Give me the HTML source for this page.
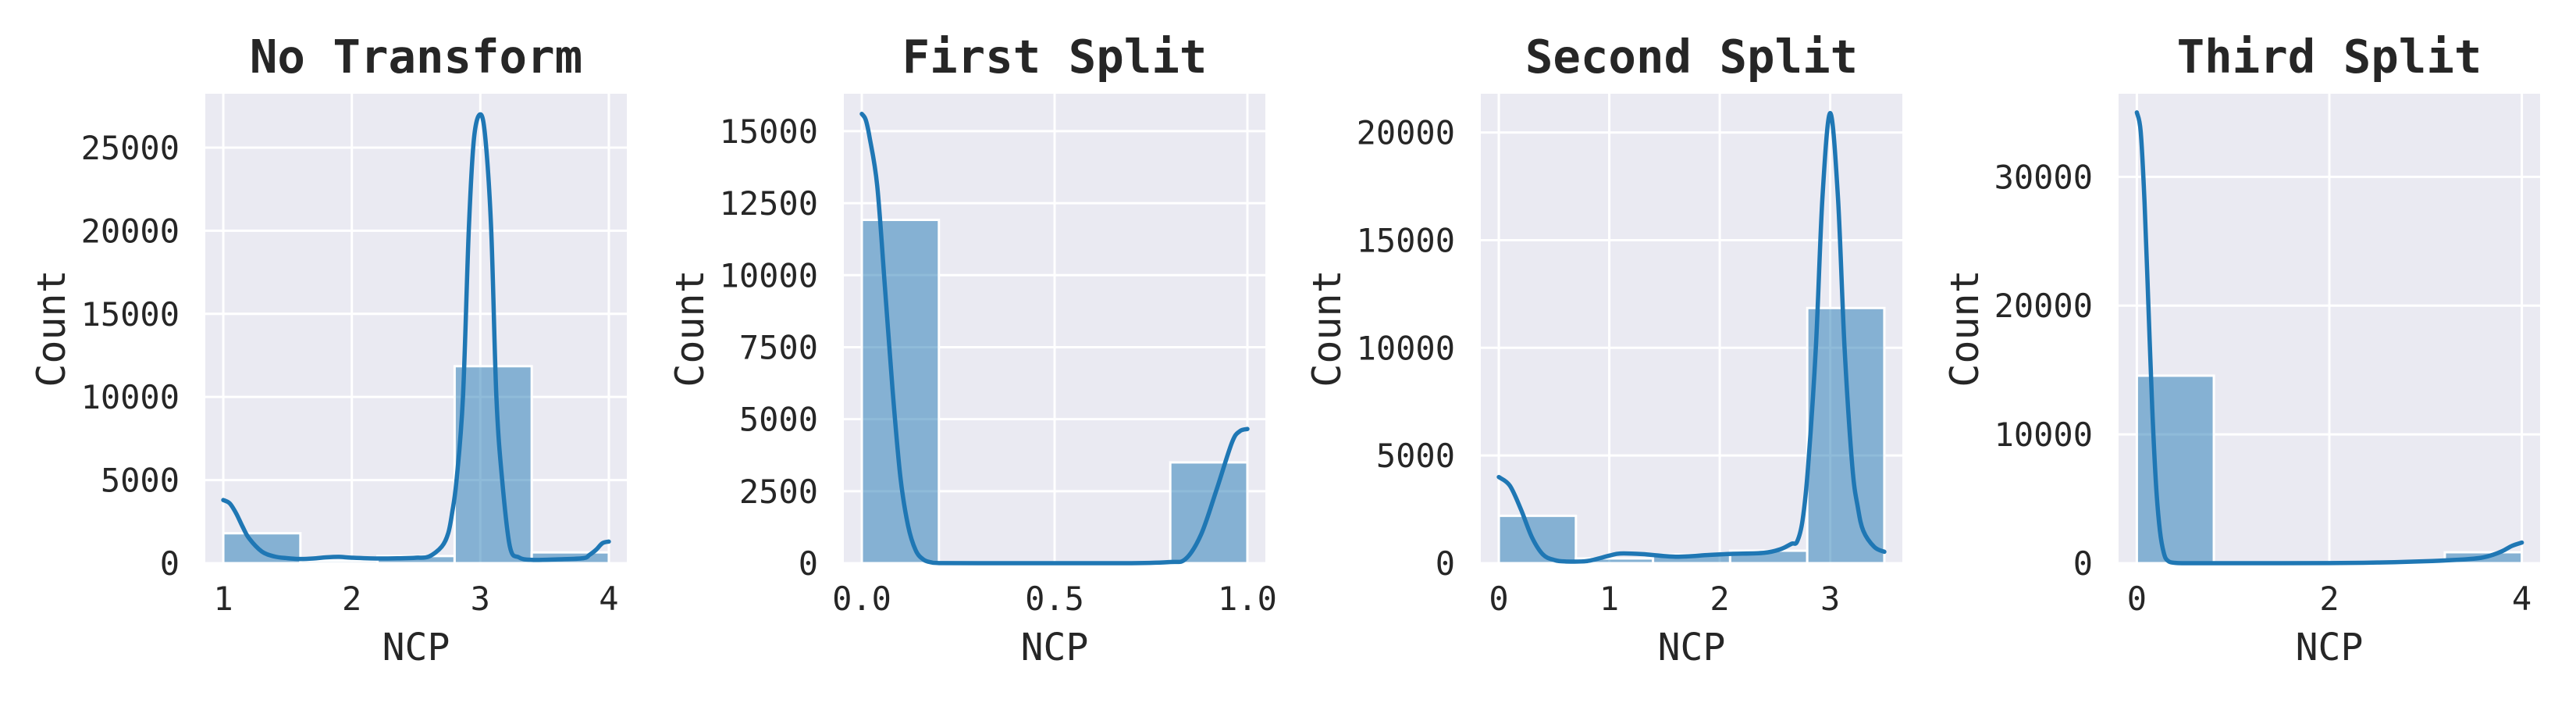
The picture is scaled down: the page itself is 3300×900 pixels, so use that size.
<!DOCTYPE html>
<html>
<head>
<meta charset="utf-8">
<style>
html,body{margin:0;padding:0;background:#fff;}
svg{display:block;}
text{font-family:"DejaVu Sans Mono","Liberation Mono",monospace;fill:#262626;}
</style>
</head>
<body>
<svg id="fig" width="3300" height="900" viewBox="0 0 3300 900" xmlns="http://www.w3.org/2000/svg"></svg>
<script>
// ---------- Panel 1: No Transform ----------
const p1Title = "No Transform";
const p1BinEdges = [1, 1.6, 2.2, 2.8, 3.4, 4.0];
const p1Counts = [1800, 150, 430, 11850, 650];
const p1KdeX = [1,1.05,1.1,1.15,1.2,1.3,1.4,1.5,1.6,1.7,1.8,1.9,2.0,2.2,2.4,2.5,2.6,2.7,2.75,2.78,2.815,2.865,2.91,2.95,3.0,3.04,3.085,3.125,3.17,3.23,3.3,3.4,3.6,3.8,3.85,3.9,3.95,4.0];
const p1KdeY = [3800,3600,3000,2200,1500,700,400,300,250,280,350,380,330,280,300,330,400,1000,1800,3000,5000,10000,20000,25500,27000,25500,20000,10000,5000,1000,350,200,230,300,500,800,1200,1300];
const p1XTicks = [1,2,3,4];
const p1XTickLabels = ["1","2","3","4"];
const p1YTicks = [0,5000,10000,15000,20000,25000];
const p1YTickLabels = ["0","5000","10000","15000","20000","25000"];

// ---------- Panel 2: First Split ----------
const p2Title = "First Split";
const p2BinEdges = [0, 0.2, 0.4, 0.6, 0.8, 1.0];
const p2Counts = [11920, 0, 0, 0, 3500];
const p2KdeX = [0,0.01,0.02,0.04,0.06,0.08,0.1,0.12,0.14,0.16,0.18,0.2,0.3,0.5,0.7,0.8,0.84,0.88,0.92,0.96,0.98,1.0];
const p2KdeY = [15600,15400,14800,13100,9580,5980,3000,1300,440,125,30,5,0,0,0,40,150,1000,2550,4190,4580,4660];
const p2XTicks = [0,0.5,1.0];
const p2XTickLabels = ["0.0","0.5","1.0"];
const p2YTicks = [0,2500,5000,7500,10000,12500,15000];
const p2YTickLabels = ["0","2500","5000","7500","10000","12500","15000"];

// ---------- Panel 3: Second Split ----------
const p3Title = "Second Split";
const p3BinEdges = [0, 0.698, 1.396, 2.094, 2.792, 3.49];
const p3Counts = [2200, 220, 400, 580, 11850];
const p3KdeX = [0,0.1,0.2,0.3,0.4,0.5,0.6,0.8,1.0,1.1,1.3,1.6,1.9,2.1,2.4,2.55,2.65,2.7,2.75,2.8,2.87,2.93,3.0,3.07,3.13,3.2,3.25,3.3,3.4,3.49];
const p3KdeY = [4000,3600,2500,1200,400,150,80,100,350,450,420,300,380,430,480,650,900,1000,2000,4500,10000,17000,20900,17000,10000,4500,2600,1500,750,530];
const p3XTicks = [0,1,2,3];
const p3XTickLabels = ["0","1","2","3"];
const p3YTicks = [0,5000,10000,15000,20000];
const p3YTickLabels = ["0","5000","10000","15000","20000"];

// ---------- Panel 4: Third Split ----------
const p4Title = "Third Split";
const p4BinEdges = [0, 0.8, 1.6, 2.4, 3.2, 4.0];
const p4Counts = [14560, 0, 0, 0, 850];
const p4KdeX = [0,0.04,0.08,0.12,0.16,0.2,0.24,0.28,0.32,0.4,0.6,1.0,2.0,2.5,3.0,3.3,3.5,3.6,3.7,3.8,3.9,4.0];
const p4KdeY = [35000,33500,28000,20000,12000,6000,2500,800,200,20,0,0,10,50,150,250,350,450,650,950,1350,1600];
const p4XTicks = [0,2,4];
const p4XTickLabels = ["0","2","4"];
const p4YTicks = [0,10000,20000,30000];
const p4YTickLabels = ["0","10000","20000","30000"];

const panels = [
  {key:"no-transform", title:p1Title, edges:p1BinEdges, counts:p1Counts, kx:p1KdeX, ky:p1KdeY, xt:p1XTicks, xtl:p1XTickLabels, yt:p1YTicks, ytl:p1YTickLabels, xlim:[0.86,4.14], ylim:[0,28240], left:263},
  {key:"first-split", title:p2Title, edges:p2BinEdges, counts:p2Counts, kx:p2KdeX, ky:p2KdeY, xt:p2XTicks, xtl:p2XTickLabels, yt:p2YTicks, ytl:p2YTickLabels, xlim:[-0.0466,1.0466], ylim:[0,16300], left:1081},
  {key:"second-split", title:p3Title, edges:p3BinEdges, counts:p3Counts, kx:p3KdeX, ky:p3KdeY, xt:p3XTicks, xtl:p3XTickLabels, yt:p3YTicks, ytl:p3YTickLabels, xlim:[-0.163,3.653], ylim:[0,21800], left:1897},
  {key:"third-split", title:p4Title, edges:p4BinEdges, counts:p4Counts, kx:p4KdeX, ky:p4KdeY, xt:p4XTicks, xtl:p4XTickLabels, yt:p4YTicks, ytl:p4YTickLabels, xlim:[-0.19,4.19], ylim:[0,36450], left:2714}
];

const NS = "http://www.w3.org/2000/svg";
const fig = document.getElementById("fig");
const TOP = 120, BOTTOM = 721, W = 540;

function mk(tag, attrs, parent){
  const e = document.createElementNS(NS, tag);
  for (const k in attrs) e.setAttribute(k, attrs[k]);
  parent.appendChild(e);
  return e;
}

function catmull(pts){
  let d = "M" + pts[0][0].toFixed(2) + "," + pts[0][1].toFixed(2);
  for (let i=0;i<pts.length-1;i++){
    const p0 = pts[Math.max(0,i-1)], p1 = pts[i], p2 = pts[i+1], p3 = pts[Math.min(pts.length-1,i+2)];
    const c1x = p1[0] + (p2[0]-p0[0])/6, c1y = p1[1] + (p2[1]-p0[1])/6;
    const c2x = p2[0] - (p3[0]-p1[0])/6, c2y = p2[1] - (p3[1]-p1[1])/6;
    d += " C" + c1x.toFixed(2)+","+c1y.toFixed(2)+" "+c2x.toFixed(2)+","+c2y.toFixed(2)+" "+p2[0].toFixed(2)+","+p2[1].toFixed(2);
  }
  return d;
}

panels.forEach(p => {
  const L = p.left, R = L + W;
  const sx = v => L + (v - p.xlim[0]) / (p.xlim[1] - p.xlim[0]) * W;
  const sy = v => BOTTOM - (v - p.ylim[0]) / (p.ylim[1] - p.ylim[0]) * (BOTTOM - TOP);

  const g = mk("g", {}, fig);
  
  

  const bg = mk("rect", {x:L, y:TOP, width:W, height:BOTTOM-TOP, fill:"#eaeaf2"}, g);
  
  

  p.xt.forEach((t,i) => {
    const gl = mk("line", {x1:sx(t), x2:sx(t), y1:TOP, y2:BOTTOM, stroke:"#fff", "stroke-width":3}, g);
    
    
    const tl = mk("text", {x:sx(t), y:781, "font-size":42, "text-anchor":"middle"}, g);
    tl.textContent = p.xtl[i];
    
    
  });
  p.yt.forEach((t,i) => {
    const gl = mk("line", {x1:L, x2:R, y1:sy(t), y2:sy(t), stroke:"#fff", "stroke-width":3}, g);
    
    
    const tl = mk("text", {x:L-33, y:sy(t)+15, "font-size":42, "text-anchor":"end"}, g);
    tl.textContent = p.ytl[i];
    
    
  });

  p.counts.forEach((c,i) => {
    if (c <= 0) return;
    const x0 = sx(p.edges[i]), x1 = sx(p.edges[i+1]);
    const b = mk("rect", {x:x0, y:sy(c), width:x1-x0, height:BOTTOM-sy(c), fill:"rgba(31,119,180,0.5)", stroke:"#fff", "stroke-width":3}, g);
    
    
  });

  const pts = p.kx.map((x,i) => [sx(x), sy(p.ky[i])]);
  const path = mk("path", {d:catmull(pts), fill:"none", stroke:"#1f77b4", "stroke-width":5.5, "stroke-linecap":"round", "stroke-linejoin":"round"}, g);
  
  

  const tt = mk("text", {x:(L+R)/2, y:93, "font-size":59, "font-weight":"bold", "text-anchor":"middle"}, g);
  tt.textContent = p.title;
  
  

  const xl = mk("text", {x:(L+R)/2, y:845, "font-size":48, "text-anchor":"middle"}, g);
  xl.textContent = "NCP";
  
  
  const cy = (TOP+BOTTOM)/2;
  const lx = L - 180;
  const yl = mk("text", {x:lx, y:cy, "font-size":50, "text-anchor":"middle", transform:"rotate(-90 "+lx+" "+cy+")"}, g);
  yl.textContent = "Count";
  
  
});
</script>
</body>
</html>
